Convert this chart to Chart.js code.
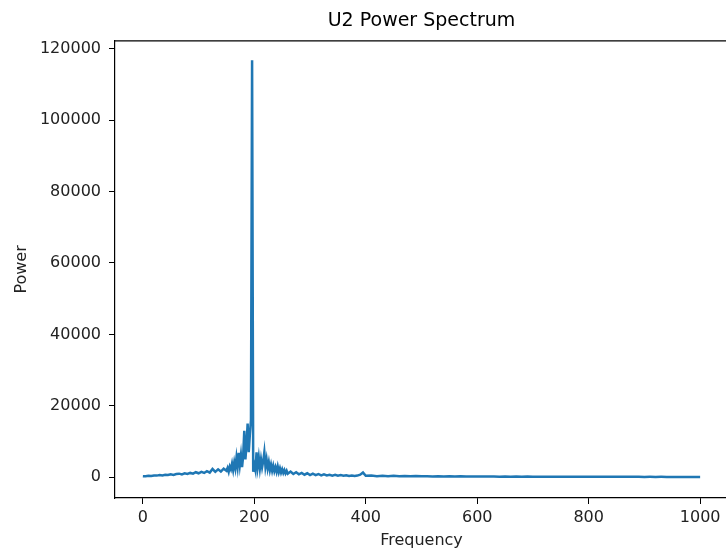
<!DOCTYPE html>
<html>
<head>
<meta charset="utf-8">
<script src="https://cdn.jsdelivr.net/npm/chart.js@4.4.0/dist/chart.umd.min.js"></script>
<style>
    html, body { margin: 0; padding: 0; background: #fff; overflow: hidden; }
    #wrap { width: 726px; height: 552px; overflow: hidden; }
</style>
</head>
<body>
<div id="wrap"><canvas id="spectrumChart" width="740" height="552"></canvas></div>
<script>
// Frequency bins (Hz) and power
const freqs = [
    0, 5, 10, 15, 20, 25, 30, 35, 40, 45, 50, 55, 60, 65, 70, 75, 80, 85, 90, 95,
    100, 105, 110, 115, 120, 125, 130, 135, 140, 145,
    150, 152, 154, 156, 158, 160, 162, 164, 166, 168, 170, 172, 174, 176, 178,
    180, 182, 184, 186, 188, 190, 192, 194, 196, 198, 200, 202, 204, 206, 208,
    210, 212, 214, 216, 218, 220, 222, 224, 226, 228, 230, 232, 234, 236, 238,
    240, 242, 244, 246, 248, 250, 252, 254, 256, 258, 260,
    265, 270, 275, 280, 285, 290, 295, 300, 305, 310, 315, 320, 325, 330, 335,
    340, 345, 350, 355, 360, 365, 370, 375, 380, 385, 390, 395, 400,
    410, 420, 430, 440, 450, 460, 470, 480, 490, 500, 510, 520, 530, 540, 550,
    560, 570, 580, 590, 600, 610, 620, 630, 640, 650, 660, 670, 680, 690, 700,
    710, 720, 730, 740, 750, 760, 770, 780, 790, 800, 810, 820, 830, 840, 850,
    860, 870, 880, 890, 900, 910, 920, 930, 940, 950, 960, 970, 980, 990, 1000
];
const power = [
    300, 250, 400, 350, 500, 450, 600, 500, 700, 600, 800, 650, 900, 1000, 800, 1100, 900, 1200, 1000, 1400,
    1100, 1500, 1200, 1700, 1300, 2300, 1500, 2200, 1600, 2400,
    1800, 2600, 1500, 3000, 2200, 3800, 2000, 4200, 2500, 5500, 3000, 6800, 3500, 6200, 2800,
    6000, 13000, 5000, 9000, 15000, 7000, 12000, 16000, 116800, 1500, 3500, 2000, 7000, 3000, 5500,
    2500, 5000, 2800, 4500, 7000, 3000, 5000, 2500, 4200, 2000, 3500, 1800, 3200, 1700, 2800,
    1500, 3000, 1400, 2500, 1300, 2200, 1200, 2000, 1100, 1800, 1000,
    1600, 900, 1400, 800, 1200, 700, 1100, 600, 1000, 600, 900, 500, 800, 500, 700,
    450, 650, 400, 600, 400, 550, 350, 500, 350, 450, 700, 1300, 400,
    450, 300, 400, 280, 380, 260, 350, 250, 330, 240, 300, 220, 280, 210, 260,
    200, 250, 190, 230, 180, 220, 170, 200, 160, 190, 150, 180, 150, 170, 140,
    160, 130, 150, 130, 140, 120, 140, 120, 130, 110, 130, 110, 120, 100, 120,
    100, 110, 100, 110, 90, 100, 90, 100, 90, 95, 85, 95, 85, 90, 80
];
const xTicks = [0, 200, 400, 600, 800, 1000];
const yTicks = [0, 20000, 40000, 60000, 80000, 100000, 120000];

// draws the top and right spines like matplotlib
const framePlugin = {
    id: 'frame',
    afterDraw(chart) {
        const { ctx, chartArea } = chart;
        ctx.save();
        ctx.strokeStyle = '#000';
        ctx.lineWidth = 1.2;
        ctx.beginPath();
        ctx.moveTo(chartArea.left, chartArea.top);
        ctx.lineTo(chartArea.right, chartArea.top);
        ctx.lineTo(chartArea.right, chartArea.bottom);
        ctx.stroke();
        ctx.restore();
    }
};

const ctx = document.getElementById('spectrumChart').getContext('2d');
new Chart(ctx, {
    type: 'line',
    data: {
        datasets: [{
            label: 'U2',
            data: freqs.map((f, i) => ({ x: f, y: power[i] })),
            borderColor: '#1f77b4',
            borderWidth: 2.5,
            pointRadius: 0,
            tension: 0,
            fill: false
        }]
    },
    options: {
        responsive: false,
        animation: false,
        devicePixelRatio: 1,
        layout: { padding: { left: 0, right: 12, top: 0, bottom: 0 } },
        plugins: {
            legend: { display: false },
            tooltip: { enabled: false },
            title: {
                display: true,
                fullSize: false,
                text: 'U2 Power Spectrum',
                color: '#000',
                font: { family: 'DejaVu Sans', size: 19, weight: 'normal', lineHeight: 1.2 },
                padding: { top: 10, bottom: 8 }
            }
        },
        scales: {
            x: {
                type: 'linear',
                min: -50,
                max: 1050,
                afterBuildTicks: (scale) => { scale.ticks = xTicks.map(v => ({ value: v })); },
                afterFit: (scale) => { scale.height = 54; },
                grid: { drawOnChartArea: false, drawTicks: true, tickLength: 6, tickColor: '#000' },
                border: { display: true, color: '#000', width: 1.2 },
                ticks: {
                    color: '#222',
                    padding: 4,
                    maxRotation: 0,
                    font: { family: 'DejaVu Sans', size: 16 },
                    callback: (v) => String(v)
                },
                title: {
                    display: true,
                    text: 'Frequency',
                    color: '#222',
                    font: { family: 'DejaVu Sans', size: 16 },
                    padding: { top: 0, bottom: 2 }
                }
            },
            y: {
                type: 'linear',
                min: -5820,
                max: 122220,
                afterBuildTicks: (scale) => { scale.ticks = yTicks.map(v => ({ value: v })); },
                afterFit: (scale) => { scale.width = 115; },
                grid: { drawOnChartArea: false, drawTicks: true, tickLength: 6, tickColor: '#000' },
                border: { display: true, color: '#000', width: 1.2 },
                ticks: {
                    color: '#222',
                    padding: 8,
                    font: { family: 'DejaVu Sans', size: 16 },
                    callback: (v) => String(v)
                },
                title: {
                    display: true,
                    text: 'Power',
                    color: '#222',
                    font: { family: 'DejaVu Sans', size: 16 },
                    padding: { top: 12, bottom: 0 }
                }
            }
        }
    },
    plugins: [framePlugin]
});
</script>
</body>
</html>
